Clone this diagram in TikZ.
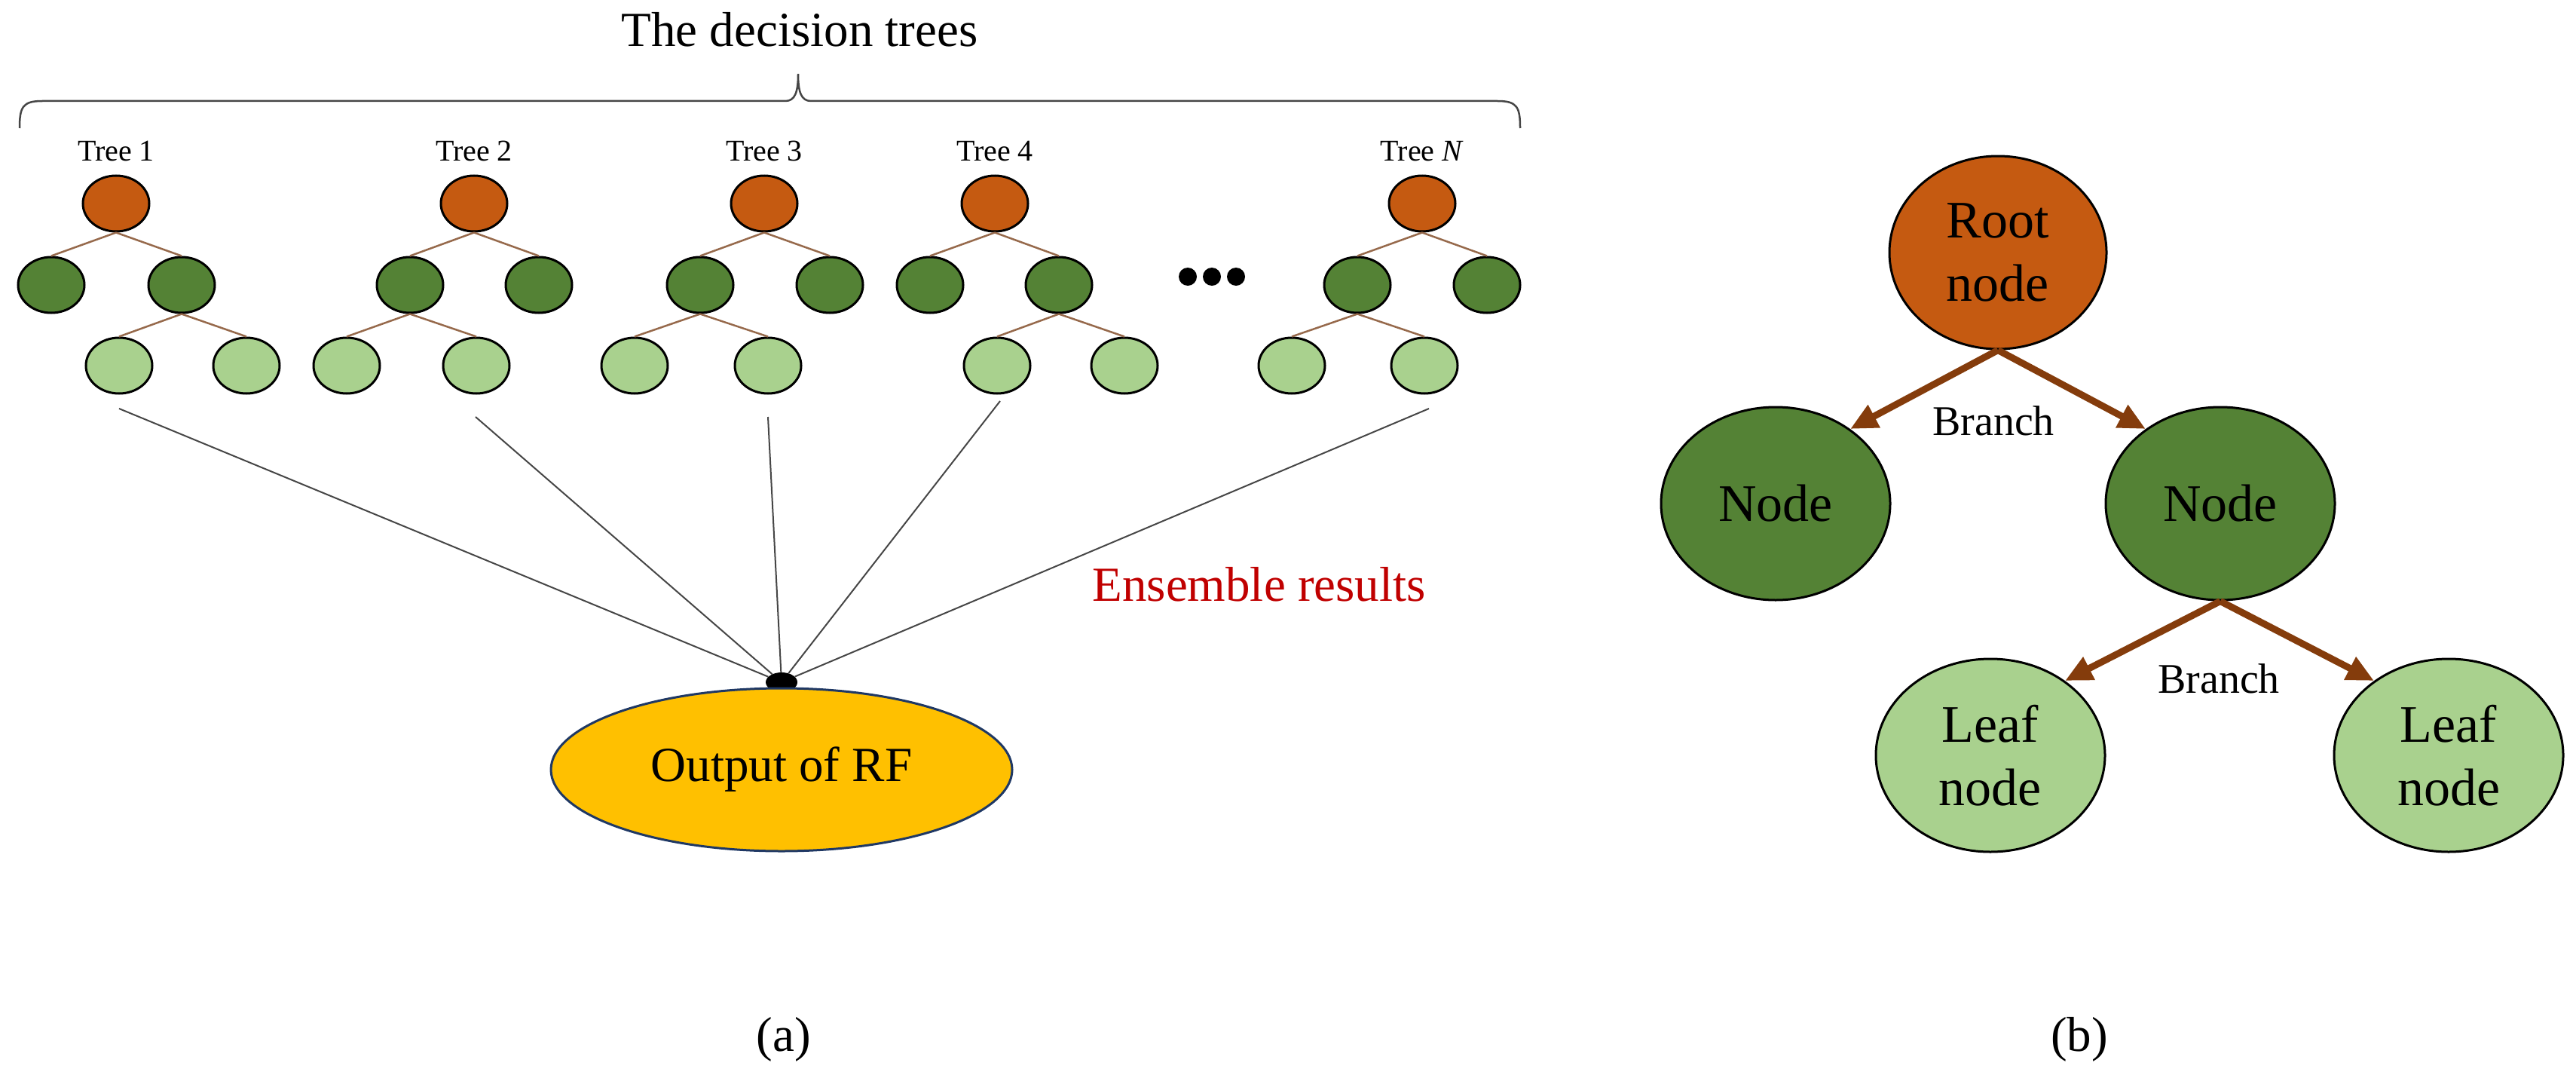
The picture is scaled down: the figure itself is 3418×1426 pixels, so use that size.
\documentclass[tikz,border=0pt]{standalone}
\usepackage{fontspec}
\setmainfont{Liberation Serif}
\usetikzlibrary{arrows.meta,shapes.geometric}
\definecolor{rootor}{RGB}{197,90,17}
\definecolor{midgr}{RGB}{84,130,53}
\definecolor{leafgr}{RGB}{169,209,142}
\definecolor{edgebr}{RGB}{150,105,75}
\definecolor{arrbr}{RGB}{132,60,12}
\definecolor{outyel}{RGB}{255,192,0}
\definecolor{outblue}{RGB}{31,56,100}
\definecolor{ensred}{RGB}{192,0,0}
\definecolor{linegray}{RGB}{70,70,70}
\newcommand\fsz[1]{\fontsize{#1}{#1}\selectfont}
\newcommand\rftree[7]{%
  \node[tnode,fill=rootor] (#1r) at (#2,270) {};
  \node[tnode,fill=midgr]  (#1a) at (#3,378) {};
  \node[tnode,fill=midgr]  (#1b) at (#4,378) {};
  \node[tnode,fill=leafgr] (#1c) at (#5,485) {};
  \node[tnode,fill=leafgr] (#1d) at (#6,485) {};
  \draw[tedge] (#1r.south) -- (#1a.north);
  \draw[tedge] (#1r.south) -- (#1b.north);
  \draw[tedge] (#1#7.south) -- (#1c.north);
  \draw[tedge] (#1#7.south) -- (#1d.north);
}
\begin{document}
\begin{tikzpicture}[x=1pt,y=-1pt,
  tnode/.style={ellipse,draw=black,line width=3pt,minimum width=88pt,minimum height=74pt,inner sep=0pt},
  tedge/.style={draw=edgebr,line width=2.5pt},
  tlabel/.style={anchor=base,font=\fsz{40}},
  bignode/.style={ellipse,draw=black,line width=3pt,minimum width=304pt,minimum height=256pt,inner sep=0pt,align=center,font=\fontsize{70}{84}\selectfont},
  barrow/.style={draw=arrbr,line width=9pt,-{Triangle[length=36pt,width=32pt]}},
  ensline/.style={draw=linegray,line width=2pt},
  dotc/.style={circle,fill=black,minimum size=24pt,inner sep=0pt},
  bigtext/.style={font=\fsz{65}}]
\useasboundingbox (0,0) rectangle (3418,1426);

% title and brace
\node[bigtext,anchor=base] (title) at (1061,62) {The decision trees};
\draw[line width=2.5pt,draw=linegray] (26,170) .. controls (26,142) and (30,134) .. (56,134) -- (1042,134)
  .. controls (1055,134) and (1059,122) .. (1059,98) .. controls (1059,122) and (1063,134) .. (1076,134)
  -- (1987,134) .. controls (2013,134) and (2017,142) .. (2017,170);

% tree labels
\node[tlabel] (lab1) at (154,213) {Tree 1};
\node[tlabel] (lab2) at (629,213) {Tree 2};
\node[tlabel] (lab3) at (1014,213) {Tree 3};
\node[tlabel] (lab4) at (1320,213) {Tree 4};
\node[tlabel] (labN) at (1887,213) {Tree \textit{N}};

% trees
\rftree{ta}{154}{68}{241}{158}{327}{b}
\rftree{tb}{629}{544}{715}{460}{632}{a}
\rftree{tc}{1014}{929}{1101}{842}{1019}{a}
\rftree{td}{1320}{1234}{1405}{1323}{1492}{b}
\rftree{tn}{1887}{1801}{1973}{1714}{1890}{a}

% ellipsis dots
\node[dotc] (dot1) at (1576,367) {};
\node[dotc] (dot2) at (1608,367) {};
\node[dotc] (dot3) at (1640,367) {};

% ensemble lines
\node[ellipse,fill=black,minimum width=42pt,minimum height=26pt,inner sep=0pt] (hub) at (1037,905) {};
\coordinate (s1) at (158,542);
\coordinate (s2) at (631,553);
\coordinate (s3) at (1019,553);
\coordinate (s4) at (1327,532);
\coordinate (s5) at (1896,542);
\foreach \s in {s1,s2,s3,s4,s5} \draw[ensline] (\s) -- (hub);
\node[ellipse,fill=outyel,draw=outblue,line width=3pt,minimum width=612pt,minimum height=216pt,inner sep=0pt,bigtext] (out) at (1037,1021) {Output of RF};
\node[bigtext,anchor=base west,text=ensred] (ens) at (1446,797) {Ensemble results};
\node[bigtext] (capa) at (1040,1379) {(a)};

% (b) single tree
\node[bignode,fill=rootor,minimum width=288pt] (root) at (2651,335) {Root\\node};
\node[bignode,fill=midgr] (nl) at (2356,668) {Node};
\node[bignode,fill=midgr] (nr) at (2946,668) {Node};
\node[bignode,fill=leafgr] (ll) at (2641,1002) {Leaf\\node};
\node[bignode,fill=leafgr] (lr) at (3249,1002) {Leaf\\node};
\draw[barrow] (root.south) -- (nl.45);
\draw[barrow] (root.south) -- (nr.135);
\draw[barrow] (nr.south) -- (ll.45);
\draw[barrow] (nr.south) -- (lr.135);
\node[font=\fsz{56}] (br1) at (2645,558) {Branch};
\node[font=\fsz{56}] (br2) at (2944,900) {Branch};
\node[bigtext] (capb) at (2759,1379) {(b)};
\end{tikzpicture}
\end{document}
